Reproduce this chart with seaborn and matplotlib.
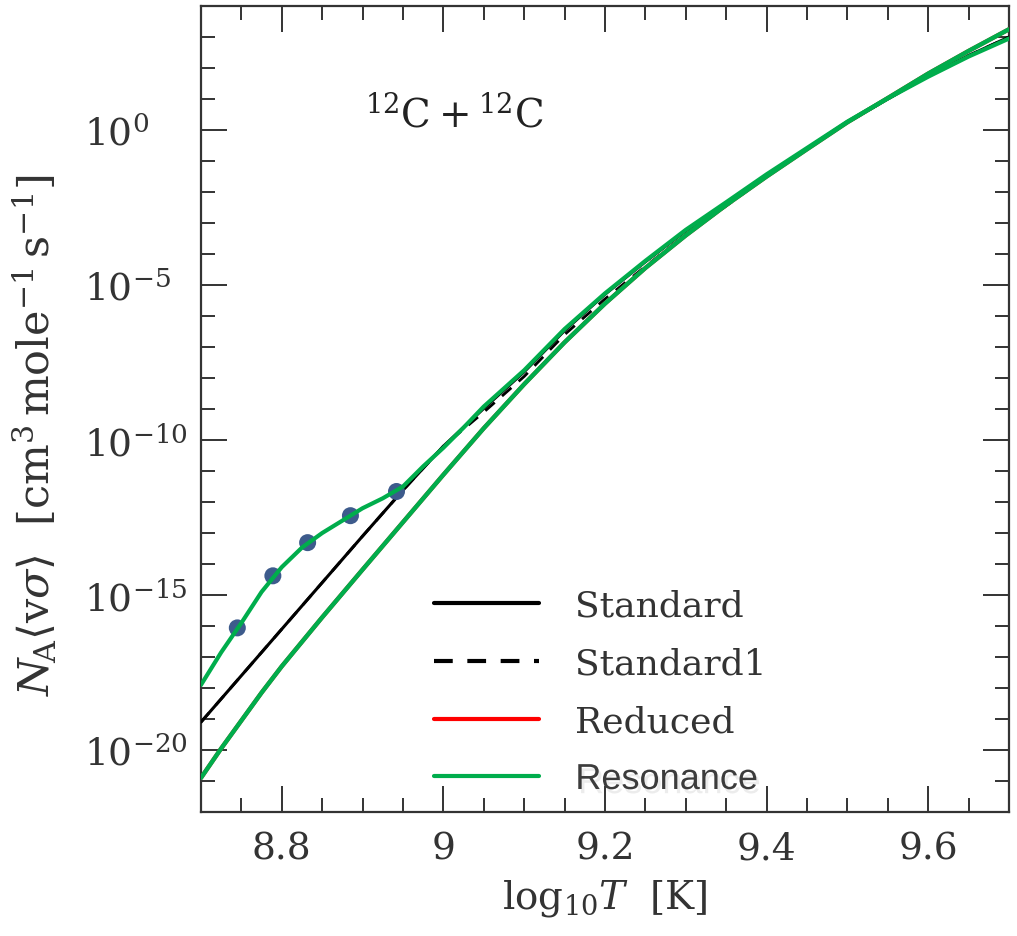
"""
12C+12C reaction rate vs temperature: Standard / Standard1 / Reduced / Resonance.
Rates stored as log10 values read off the figure.
"""

import numpy as np
import pandas as pd
import matplotlib
matplotlib.use("Agg")
import matplotlib.pyplot as plt
import matplotlib.ticker as mticker
import matplotlib.patheffects as pe
import seaborn as sns

# ---- data (log10 T, log10 rate) ----
std_logT = [8.70, 8.75, 8.80, 8.85, 8.90, 8.95, 9.00, 9.05, 9.10, 9.15, 9.20,
            9.25, 9.30, 9.35, 9.40, 9.45, 9.50, 9.55, 9.60, 9.65, 9.70]
std_lograte = [-19.1, -17.6, -16.1, -14.6, -13.1, -11.62, -10.2, -8.98, -7.8,
               -6.47, -5.3, -4.25, -3.25, -2.35, -1.45, -0.6, 0.25, 1.0, 1.75,
               2.4, 3.0]

std1_logT = std_logT
std1_lograte = [-19.1, -17.6, -16.1, -14.6, -13.1, -11.62, -10.2, -9.1, -7.95,
                -6.6, -5.45, -4.4, -3.38, -2.45, -1.5, -0.62, 0.24, 1.0, 1.74,
                2.4, 3.0]

red_logT = [8.70, 8.725, 8.75, 8.775, 8.80, 8.85, 8.90, 8.95, 9.00, 9.05, 9.10,
            9.15, 9.20, 9.25, 9.30, 9.35, 9.40, 9.45, 9.50, 9.55, 9.60, 9.65,
            9.70]
red_lograte = [-20.9, -19.95, -19.05, -18.15, -17.3, -15.72, -14.18, -12.65,
               -11.12, -9.62, -8.2, -6.85, -5.6, -4.45, -3.4, -2.42, -1.5,
               -0.62, 0.25, 1.03, 1.82, 2.55, 3.25]

res_logT = [8.70, 8.725, 8.75, 8.775, 8.80, 8.825, 8.85, 8.875, 8.90, 8.925,
            8.95, 8.975, 9.00, 9.025, 9.05, 9.10, 9.15, 9.20, 9.25, 9.30,
            9.35, 9.40, 9.45, 9.50, 9.55, 9.60, 9.65, 9.70]
res_lograte = [-17.9, -16.85, -15.9, -14.9, -14.1, -13.47, -13.0, -12.6,
               -12.2, -11.88, -11.5, -10.85, -10.25, -9.6, -8.92, -7.75, -6.42,
               -5.27, -4.22, -3.22, -2.33, -1.43, -0.58, 0.27, 1.02, 1.72,
               2.37, 2.95]

# resonance points marked with dots
pts_logT = [8.745, 8.789, 8.832, 8.885, 8.942]
pts_lograte = [-16.06, -14.38, -13.31, -12.44, -11.66]

GREEN = "#00ad4c"
DOT = "#3d5b8c"

sns.set_style("ticks")
plt.rcParams["font.family"] = ["DejaVu Serif"]
plt.rcParams["mathtext.fontset"] = "dejavuserif"


def to_df(logT, lograte):
    return pd.DataFrame({"logT": logT, "rate": 10.0 ** np.asarray(lograte)})


fig = plt.figure(figsize=(10.17, 9.37), dpi=100)
ax = fig.add_axes([0.1976, 0.1323, 0.7945, 0.8602])

sns.lineplot(data=to_df(std_logT, std_lograte), x="logT", y="rate", ax=ax,
             color="black", linewidth=2.2, label="Standard", zorder=3)
sns.lineplot(data=to_df(std1_logT, std1_lograte), x="logT", y="rate", ax=ax,
             color="black", linewidth=2.0, label="Standard1", zorder=3)
ax.lines[-1].set_dashes((4.5, 3.5))
sns.lineplot(data=to_df(red_logT, red_lograte), x="logT", y="rate", ax=ax,
             color="#ff0000", linewidth=3.0, label="Reduced", zorder=4)
# the reduced curve appears recoloured green in the figure
sns.lineplot(data=to_df(red_logT, red_lograte), x="logT", y="rate", ax=ax,
             color=GREEN, linewidth=3.2, legend=False, zorder=5)
sns.scatterplot(data=to_df(pts_logT, pts_lograte), x="logT", y="rate", ax=ax,
                color=DOT, s=150, edgecolor="none", zorder=5, legend=False)
sns.lineplot(data=to_df(res_logT, res_lograte), x="logT", y="rate", ax=ax,
             color=GREEN, linewidth=3.0, label="Resonance", zorder=6)

ax.set_yscale("log")
ax.set_xlim(8.7, 9.7)
ax.set_ylim(1e-22, 1e4)

ax.xaxis.set_major_locator(mticker.MultipleLocator(0.2))
ax.xaxis.set_minor_locator(mticker.MultipleLocator(0.05))
ax.xaxis.set_major_formatter(mticker.FuncFormatter(lambda v, p: f"{round(v, 2):g}"))
ax.yaxis.set_major_locator(mticker.FixedLocator([10.0 ** k for k in range(-20, 1, 5)]))
ax.yaxis.set_minor_locator(mticker.FixedLocator([10.0 ** k for k in range(-22, 5)]))
ax.yaxis.set_major_formatter(mticker.LogFormatterMathtext())
ax.yaxis.set_minor_formatter(mticker.NullFormatter())

ax.tick_params(which="both", direction="in", top=True, right=True,
               color="#333333", width=1.4)
ax.tick_params(which="major", length=19)
ax.tick_params(which="minor", length=10)
ax.tick_params(axis="x", labelsize=27, pad=13, colors="#333333")
ax.tick_params(axis="y", labelsize=27, pad=84, colors="#333333")
plt.setp(ax.get_yticklabels(), ha="left")
for sp in ax.spines.values():
    sp.set_linewidth(1.6)
    sp.set_color("#333333")

ax.set_xlabel(r"$\log_{10}\!T\ \ [\mathrm{K}]$", fontsize=28, color="#333333",
              labelpad=8)
ax.set_ylabel(r"$N_{\!\mathrm{A}}\langle \mathrm{v}\sigma\rangle\ \ "
              r"[\mathrm{cm^3\,mole^{-1}\,s^{-1}}]$",
              fontsize=31, color="#333333")
ax.yaxis.set_label_coords(-0.175, 0.469)

ax.text(0.203, 0.866, r"$^{12}\mathrm{C}+^{12}\mathrm{C}$", transform=ax.transAxes,
        fontsize=28, va="center", ha="left", color="#222222")

leg = ax.legend(loc="center left", bbox_to_anchor=(0.289, 0.148), frameon=False,
                fontsize=26, handlelength=2.9, handletextpad=1.0,
                labelspacing=0.66, borderpad=0, borderaxespad=0)
for t in leg.get_texts():
    t.set_color("#333333")
res_txt = leg.get_texts()[3]
res_txt.set_family(["Liberation Sans", "DejaVu Sans"])
res_txt.set_color("#3c3c3c")
res_txt.set_fontsize(26)
res_txt.set_path_effects([pe.SimplePatchShadow(offset=(2, -3), shadow_rgbFace="#999999",
                                               alpha=0.18), pe.Normal()])
for h in leg.get_lines():
    h.set_linewidth(3.0)

fig.savefig("out.png", dpi=100)
plt.close(fig)
